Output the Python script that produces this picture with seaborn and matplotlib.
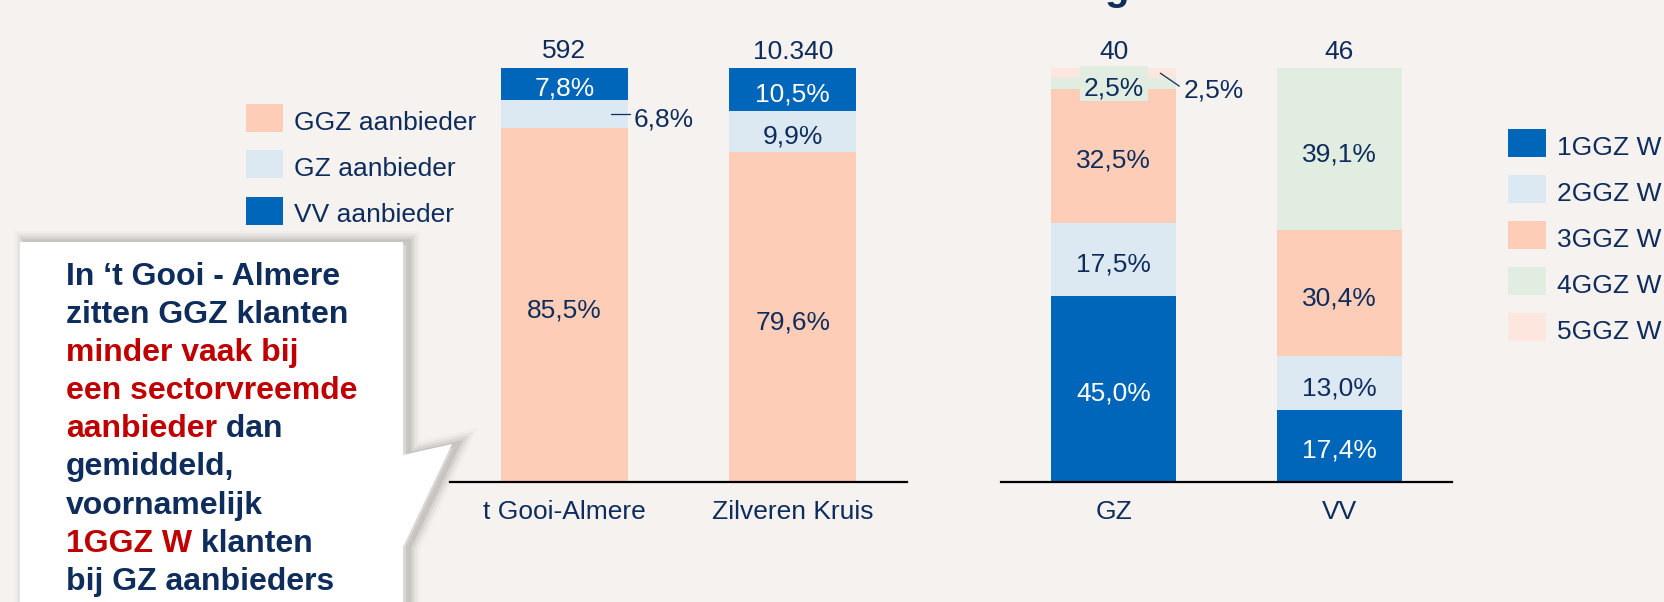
import numpy as np
import pandas as pd
import matplotlib
matplotlib.use("Agg")
import matplotlib.pyplot as plt
import matplotlib.patheffects as pe
from matplotlib.patches import Polygon, Rectangle
from matplotlib.text import Annotation
import seaborn as sns

# ---------------- data ----------------
left_cats = ["t Gooi-Almere", "Zilveren Kruis"]
left_totals = ["592", "10.340"]
left_series = ["GGZ aanbieder", "GZ aanbieder", "VV aanbieder"]
ggz_aanbieder = [85.5, 79.6]
gz_aanbieder = [6.8, 9.9]
vv_aanbieder = [7.8, 10.5]

right_cats = ["GZ", "VV"]
right_totals = ["40", "46"]
right_series = ["1GGZ W", "2GGZ W", "3GGZ W", "4GGZ W", "5GGZ W"]
ggz1_w = [45.0, 17.4]
ggz2_w = [17.5, 13.0]
ggz3_w = [32.5, 30.4]
ggz4_w = [2.5, 39.1]
ggz5_w = [2.5, 0.0]

callout_lines = [
    [("In \u2018t Gooi - Almere", "navy")],
    [("zitten GGZ klanten", "navy")],
    [("minder vaak bij", "red")],
    [("een sectorvreemde", "red")],
    [("aanbieder", "red"), (" dan", "navy")],
    [("gemiddeld,", "navy")],
    [("voornamelijk", "navy")],
    [("1GGZ W", "red"), (" klanten", "navy")],
    [("bij GZ aanbieders", "navy")],
]

# ---------------- style ----------------
BG = "#F6F2EF"
NAVY = "#0E2D5C"
RED = "#C00000"
DARK = "#0066BA"
LIGHTB = "#DCE9F2"
PEACH = "#FDCDB8"
GREEN = "#E1EDE0"
PINK = "#FCE6DE"
TXT = {"navy": NAVY, "red": RED}

sns.set_theme(style="white")
plt.rcParams["font.family"] = ["Liberation Sans", "DejaVu Sans"]

PX_W, PX_H = 1664, 602
FS = 19
BAR_W = 0.555


def fx(px):
    return px / PX_W


def fy(py):
    return 1 - py / PX_H


def fig_rect(x0, x1, y_top, y_bot):
    return [fx(x0), fy(y_bot), (x1 - x0) / PX_W, (y_bot - y_top) / PX_H]


def pct(v):
    return f"{v:.1f}".replace(".", ",") + "%"


fig = plt.figure(figsize=(PX_W / 100, PX_H / 100), dpi=100, facecolor=BG)

axL = fig.add_axes(fig_rect(450, 907, 68, 482))
axR = fig.add_axes(fig_rect(1001, 1452, 68, 482))


def draw_panel(ax, cats, totals, names, layers, colors, tcolors, special):
    pos = ax.get_position()
    ppu_x = pos.width * PX_W / 2.0
    ppu_y = pos.height * PX_H / 100.0
    bottom = np.zeros(len(cats))
    for name, vals, col, tcol in zip(names, layers, colors, tcolors):
        vals = np.asarray(vals, dtype=float)
        df = pd.DataFrame({"cat": cats, "val": vals})
        sns.barplot(data=df, x="cat", y="val", order=cats, color=col,
                    saturation=1, width=BAR_W, linewidth=0, errorbar=None,
                    bottom=bottom.copy(), ax=ax)
        for i, v in enumerate(vals):
            if v <= 0:
                continue
            yc = bottom[i] + v / 2
            edge = i + BAR_W / 2
            mode = special.get((name, cats[i]), "inside")
            if mode == "inside":
                ax.annotate(pct(v), (i, yc), xytext=(0, -12),
                            textcoords="offset pixels", ha="center",
                            va="baseline", color=tcol, fontsize=FS)
            elif mode == "boxed":
                ax.add_patch(Rectangle((i - 34 / ppu_x, yc - 17.5 / ppu_y),
                                       68 / ppu_x, 35 / ppu_y, facecolor=col,
                                       edgecolor="none", clip_on=False,
                                       zorder=3))
                ax.annotate(pct(v), (i, yc), xytext=(0, -11.5),
                            textcoords="offset pixels", ha="center",
                            va="baseline", color=tcol, fontsize=FS, zorder=4)
            elif mode == "leader":
                ax.plot([edge - 16.5 / ppu_x, edge + 2.5 / ppu_x], [yc, yc],
                        color=NAVY, lw=0.9, clip_on=False, zorder=4)
                ax.annotate(pct(v), (edge, yc), xytext=(6, -12.5),
                            textcoords="offset pixels", ha="left",
                            va="baseline", color=tcol, fontsize=FS)
            elif mode == "leader_diag":
                ax.plot([edge - 16 / ppu_x, edge + 3 / ppu_x],
                        [yc, yc - 13 / ppu_y],
                        color=NAVY, lw=0.9, clip_on=False, zorder=4)
                ax.annotate(pct(v), (edge, yc), xytext=(7, -24.5),
                            textcoords="offset pixels", ha="left",
                            va="baseline", color=tcol, fontsize=FS)
        bottom += vals
    for i, t in enumerate(totals):
        ax.annotate(t, (i, bottom[i]), xytext=(0, 9.5),
                    textcoords="offset pixels", ha="center", va="baseline",
                    color=NAVY, fontsize=FS, annotation_clip=False)
    ax.set_xlim(-0.5, 1.5)
    ax.set_ylim(0, 100)
    ax.set_xlabel("")
    ax.set_ylabel("")
    ax.set_yticks([])
    ax.set_xticks(range(len(cats)))
    ax.set_xticklabels(cats)
    ax.tick_params(axis="x", length=0, pad=13, labelsize=FS, labelcolor=NAVY)
    ax.patch.set_visible(False)
    for s in ["top", "left", "right"]:
        ax.spines[s].set_visible(False)
    ax.spines["bottom"].set_color("black")
    ax.spines["bottom"].set_linewidth(1.6)


draw_panel(axL, left_cats, left_totals, left_series,
           [ggz_aanbieder, gz_aanbieder, vv_aanbieder],
           [PEACH, LIGHTB, DARK], [NAVY, NAVY, "white"],
           {("GZ aanbieder", "t Gooi-Almere"): "leader"})

draw_panel(axR, right_cats, right_totals, right_series,
           [ggz1_w, ggz2_w, ggz3_w, ggz4_w, ggz5_w],
           [DARK, LIGHTB, PEACH, GREEN, PINK],
           ["white", NAVY, NAVY, NAVY, NAVY],
           {("4GGZ W", "GZ"): "boxed", ("5GGZ W", "GZ"): "leader_diag"})


# ---------------- legends ----------------
def draw_legend(labels, colors, x_patch, y_first, step, pw, ph, x_text):
    for k, (lab, col) in enumerate(zip(labels, colors)):
        yc = y_first + k * step
        fig.add_artist(Rectangle((fx(x_patch), fy(yc + ph / 2)), pw / PX_W,
                                 ph / PX_H, transform=fig.transFigure,
                                 facecolor=col, edgecolor="none"))
        fig.text(fx(x_text), fy(yc + 12), lab, ha="left", va="baseline",
                 color=NAVY, fontsize=FS)


draw_legend(left_series, [PEACH, LIGHTB, DARK], 246, 118, 46.25, 37, 28, 294.5)
draw_legend(right_series, [DARK, LIGHTB, PEACH, GREEN, PINK],
            1508, 143, 46, 38, 28.5, 1557)

# ---------------- callout ----------------
pts_px = [(20, 242), (403, 242), (403, 455), (452, 444), (403, 547),
          (403, 640), (20, 640)]
shadow = [pe.Stroke(offset=(4, 0), linewidth=w, foreground="black", alpha=a)
          for w, a in [(16, 0.025), (12, 0.04), (8, 0.06), (4, 0.08)]]
poly = Polygon([(fx(x), fy(y)) for x, y in pts_px], closed=True,
               transform=fig.transFigure, facecolor="white", edgecolor="none",
               zorder=1, path_effects=shadow + [pe.Normal()])
fig.add_artist(poly)

CFS = 23
for li, parts in enumerate(callout_lines):
    yb = 285 + li * 38.1
    txt, ck = parts[0]
    t = fig.text(fx(66), fy(yb), txt, ha="left", va="baseline",
                 color=TXT[ck], fontsize=CFS, fontweight="bold", zorder=5)
    for txt, ck in parts[1:]:
        t = fig.add_artist(Annotation(txt, xy=(1, 0), xycoords=t,
                                      ha="left", va="bottom", color=TXT[ck],
                                      fontsize=CFS, fontweight="bold",
                                      zorder=5))

# cut-off title glyph at the top edge
fig.text(fx(1117), 1.0, "g", ha="center", va="baseline", color=NAVY,
         fontsize=29, fontweight="bold")

fig.savefig("out.png", dpi=100, facecolor=BG)
